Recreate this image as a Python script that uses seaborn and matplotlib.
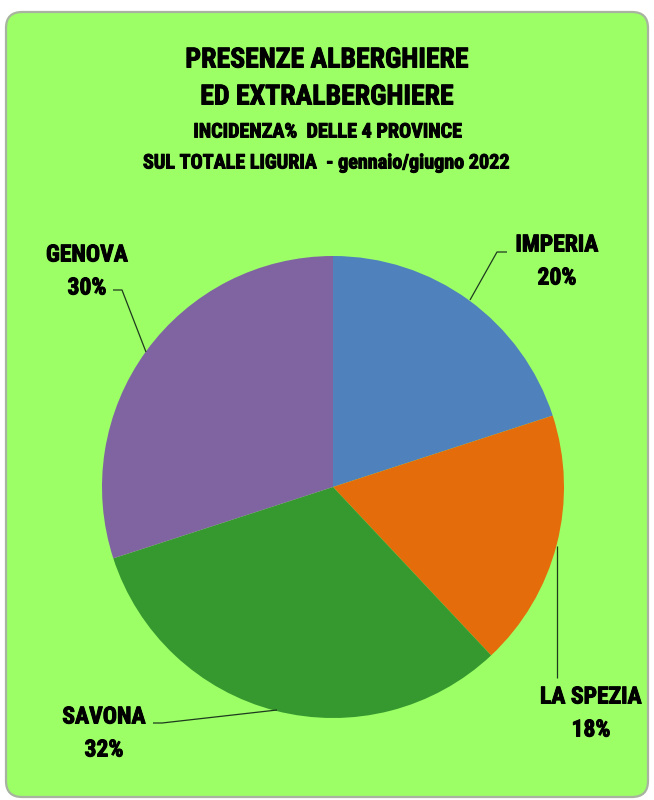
import matplotlib
matplotlib.use("Agg")
import os
import matplotlib.pyplot as plt
import matplotlib.patheffects as pe
from matplotlib.patches import FancyBboxPatch
from matplotlib import font_manager
from matplotlib.font_manager import FontProperties
import seaborn as sns

# Share of hotel and non-hotel overnight stays by province, Jan-Jun 2022
provinces = ["IMPERIA", "LA SPEZIA", "SAVONA", "GENOVA"]
shares = [20, 18, 32, 30]
slice_colors = ["#4F81BD", "#E46C0A", "#36992F", "#8064A2"]
title_lines = ["PRESENZE ALBERGHIERE", "ED EXTRALBERGHIERE"]
subtitle_lines = ["INCIDENZA%  DELLE 4 PROVINCE",
                  "SUL TOTALE LIGURIA  - gennaio/giugno 2022"]

sns.set_style("white")

# pick a narrow, heavy face when one is installed
files = {os.path.basename(f.fname): f.fname for f in font_manager.fontManager.ttflist}
preferred = ["RobotoCondensed-Bold.ttf", "NotoSans-CondensedBold.ttf",
             "LiberationSansNarrow-Bold.ttf", "Lato-Black.ttf", "Lato-Bold.ttf"]
chosen = next((files[n] for n in preferred if n in files), None)

def fp(size):
    if chosen:
        return FontProperties(fname=chosen, size=size)
    return FontProperties(family="DejaVu Sans", weight="bold", size=size)

# thin outline in the text colour makes the glyphs a touch heavier
heavy = [pe.withStroke(linewidth=0.7, foreground="black")]

W, H = 654, 800
fig = plt.figure(figsize=(W / 100, H / 100), dpi=100)
fig.patch.set_facecolor("white")

ax = fig.add_axes([0, 0, 1, 1])

def py(y):
    return H - y

panel = FancyBboxPatch((6, py(797)), 642, 785,
                       boxstyle="round,pad=0,rounding_size=16",
                       facecolor="#9CFF66", edgecolor="#A8B4A0", linewidth=1.6,
                       zorder=0)
ax.add_patch(panel)

cx, cy, r = 333, py(487), 231
ax.pie(shares, colors=slice_colors, startangle=90, counterclock=False,
       center=(cx, cy), radius=r, frame=True, wedgeprops=dict(linewidth=0))
ax.set_xlim(0, W)
ax.set_ylim(0, H)
ax.set_aspect("auto")
ax.axis("off")

ax.text(327, py(60), title_lines[0], ha="center", va="center",
        fontproperties=fp(20), color="black", path_effects=heavy)
ax.text(327, py(97), title_lines[1], ha="center", va="center",
        fontproperties=fp(20), color="black", path_effects=heavy)
ax.text(327, py(132), subtitle_lines[0], ha="center", va="center",
        fontproperties=fp(14.5), color="black", path_effects=heavy)
ax.text(326, py(163), subtitle_lines[1], ha="center", va="center",
        fontproperties=fp(14.5), color="black", path_effects=heavy)

label_pos = {
    "IMPERIA": (557, 245),
    "LA SPEZIA": (591, 697),
    "SAVONA": (104, 717),
    "GENOVA": (87, 255),
}
leaders = {
    "IMPERIA": [(507, 252), (497, 252), (470, 300)],
    "LA SPEZIA": [(557, 546), (557, 678)],
    "SAVONA": [(153, 723), (162, 723), (277, 710)],
    "GENOVA": [(113, 290), (122, 290), (146, 352)],
}
for name, val in zip(provinces, shares):
    lx, ly = label_pos[name]
    ax.text(lx, py(ly), name, ha="center", va="center",
            fontproperties=fp(17), color="black", path_effects=heavy)
    ax.text(lx, py(ly + 33), f"{val}%", ha="center", va="center",
            fontproperties=fp(17), color="black", path_effects=heavy)
    pts = leaders[name]
    ax.plot([p[0] for p in pts], [py(p[1]) for p in pts],
            color="#1E3A1E", linewidth=0.9, solid_capstyle="butt")

fig.savefig("out.png", dpi=100, facecolor="white")
